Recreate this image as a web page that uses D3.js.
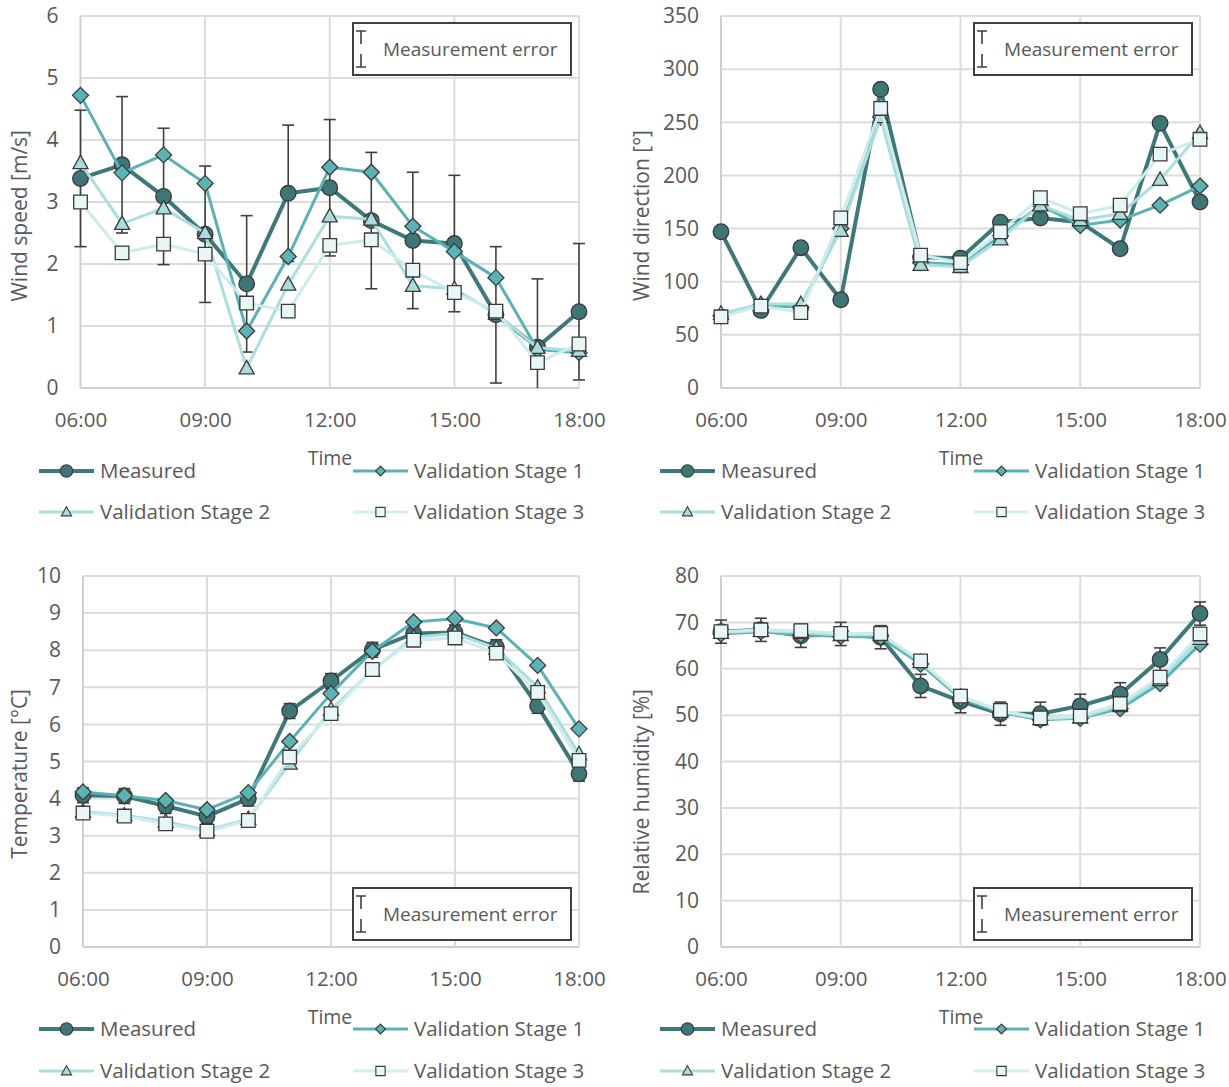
<!DOCTYPE html>
<html><head><meta charset="utf-8">
<script src="https://cdn.jsdelivr.net/npm/d3@7"></script>
<style>
html,body{margin:0;padding:0;background:#fff;}
svg text{font-family:"Open Sans","Noto Sans",sans-serif;fill:#595959;}
</style></head>
<body>
<svg id="chart" width="1229" height="1087"></svg>
<script>
// ---------- data ----------
const hours = ["06:00","07:00","08:00","09:00","10:00","11:00","12:00","13:00","14:00","15:00","16:00","17:00","18:00"];
const xTickLabels = ["06:00","09:00","12:00","15:00","18:00"];
const seriesNames = ["Measured","Validation Stage 1","Validation Stage 2","Validation Stage 3"];

// Wind speed [m/s]
const windSpeedMeasured = [3.38,3.60,3.09,2.48,1.68,3.14,3.23,2.70,2.38,2.33,1.18,0.66,1.23];
const windSpeedError    = [1.1,1.1,1.1,1.1,1.1,1.1,1.1,1.1,1.1,1.1,1.1,1.1,1.1];
const windSpeedVS1      = [4.72,3.47,3.76,3.30,0.92,2.12,3.56,3.48,2.61,2.20,1.78,0.62,0.57];
const windSpeedVS2      = [3.63,2.65,2.90,2.50,0.32,1.67,2.77,2.72,1.65,1.60,1.20,0.65,0.60];
const windSpeedVS3      = [3.00,2.18,2.32,2.16,1.37,1.24,2.30,2.39,1.90,1.54,1.24,0.41,0.71];
const windSpeedTicks    = [0,1,2,3,4,5,6];

// Wind direction [°]
const windDirMeasured = [147,73,132,83,281,123,122,156,160,156,131,249,175];
const windDirError    = [0,0,0,0,0,0,0,0,0,0,0,0,0];
const windDirVS1      = [68,78,76,150,255,118,116,143,172,153,158,172,190];
const windDirVS2      = [70,79,79,148,255,116,114,140,172,158,164,196,240];
const windDirVS3      = [67,77,71,160,263,125,118,147,179,164,172,220,234];
const windDirTicks    = [0,50,100,150,200,250,300,350];

// Temperature [°C]
const tempMeasured = [4.09,4.07,3.80,3.52,4.00,6.36,7.17,8.01,8.45,8.48,8.08,6.50,4.67];
const tempError    = [0.2,0.2,0.2,0.2,0.2,0.2,0.2,0.2,0.2,0.2,0.2,0.2,0.2];
const tempVS1      = [4.18,4.08,3.95,3.70,4.16,5.54,6.83,7.97,8.76,8.85,8.60,7.59,5.88];
const tempVS2      = [3.65,3.55,3.38,3.15,3.45,4.95,6.40,7.45,8.35,8.45,8.05,7.00,5.20];
const tempVS3      = [3.61,3.53,3.32,3.12,3.41,5.12,6.29,7.48,8.27,8.33,7.92,6.86,5.03];
const tempTicks    = [0,1,2,3,4,5,6,7,8,9,10];

// Relative humidity [%]
const rhMeasured = [68.0,68.4,67.1,67.5,66.8,56.3,53.0,50.3,50.3,52.0,54.5,62.0,71.9];
const rhError    = [2.5,2.5,2.5,2.5,2.5,2.5,2.5,2.5,2.5,2.5,2.5,2.5,2.5];
const rhVS1      = [67.5,68.0,67.3,67.0,66.8,61.0,53.6,50.6,49.0,49.3,51.4,56.8,65.3];
const rhVS2      = [67.8,68.2,67.8,67.3,67.4,61.5,54.0,50.8,49.2,49.5,52.0,57.6,66.5];
const rhVS3      = [68.0,68.4,68.2,67.6,67.6,61.7,54.1,51.0,49.4,49.8,52.5,58.2,67.5];
const rhTicks    = [0,10,20,30,40,50,60,70,80];

// ---------- styles ----------
const styles = [
  {line:"#3D797A", width:4,   fill:"#3E7576", marker:"circle"},
  {line:"#5AB2B4", width:3,   fill:"#5AB3B5", marker:"diamond"},
  {line:"#ABDEDE", width:3,   fill:"#A9DCDC", marker:"triangle"},
  {line:"#CDEDED", width:3,   fill:"#E8F6F6", marker:"square"}
];
const markerStroke = "#3a3a3a";

function markerPath(type, cx, cy, s){
  if(type==="circle"){
    const r=7.8*s; return `M${cx-r},${cy}a${r},${r} 0 1,0 ${2*r},0a${r},${r} 0 1,0 ${-2*r},0Z`;
  }
  if(type==="diamond"){
    const r=8*s; return `M${cx},${cy-r}L${cx+r},${cy}L${cx},${cy+r}L${cx-r},${cy}Z`;
  }
  if(type==="triangle"){
    const w=7.5*s, h=13.5*s; return `M${cx},${cy-h*0.58}L${cx+w},${cy+h*0.42}L${cx-w},${cy+h*0.42}Z`;
  }
  const r=6.8*s; return `M${cx-r},${cy-r}H${cx+r}V${cy+r}H${cx-r}Z`;
}

const svg = d3.select("#chart");

const panels = [
  {x0:80.5, x1:579, yTop:16, yBot:388, domain:[0,6], ticks:windSpeedTicks, title:"Wind speed [m/s]",
   titleX:20, titleTop:130, boxTop:23, legendY:[471,512], legendX:[39,353], timeX:330, timeY:458,
   series:[windSpeedMeasured,windSpeedVS1,windSpeedVS2,windSpeedVS3], err:windSpeedError},
  {x0:721, x1:1200, yTop:16, yBot:388, domain:[0,350], ticks:windDirTicks, title:"Wind direction [°]",
   titleX:642, titleTop:130, boxTop:23, legendY:[471,512], legendX:[660,974], timeX:961, timeY:458,
   series:[windDirMeasured,windDirVS1,windDirVS2,windDirVS3], err:windDirError},
  {x0:83, x1:579, yTop:576, yBot:947, domain:[0,10], ticks:tempTicks, title:"Temperature [°C]",
   titleX:20, titleTop:689, boxTop:888, legendY:[1029,1071], legendX:[39,353], timeX:330, timeY:1017,
   series:[tempMeasured,tempVS1,tempVS2,tempVS3], err:tempError},
  {x0:721, x1:1200, yTop:576, yBot:947, domain:[0,80], ticks:rhTicks, title:"Relative humidity [%]",
   titleX:642, titleTop:689, boxTop:888, legendY:[1029,1071], legendX:[660,974], timeX:961, timeY:1017,
   series:[rhMeasured,rhVS1,rhVS2,rhVS3], err:rhError}
];

panels.forEach(p=>{
  const g = svg.append("g");
  const x = d3.scaleLinear().domain([0,hours.length-1]).range([p.x0,p.x1]);
  const y = d3.scaleLinear().domain(p.domain).range([p.yBot,p.yTop]);
  const xTickIdx = xTickLabels.map(l=>hours.indexOf(l));

  // gridlines
  g.append("g").selectAll("line").data(p.ticks).join("line")
    .attr("x1",p.x0).attr("x2",p.x1).attr("y1",d=>y(d)).attr("y2",d=>y(d))
    .attr("stroke",d=>d===p.domain[0]?"#CFCFCF":"#DCDCDC").attr("stroke-width",2);
  g.append("g").selectAll("line").data(xTickIdx).join("line")
    .attr("x1",d=>x(d)).attr("x2",d=>x(d)).attr("y1",p.yTop).attr("y2",p.yBot)
    .attr("stroke",(d,i)=>i===0?"#CFCFCF":"#DCDCDC").attr("stroke-width",2);

  // axes (labels)
  const ya = g.append("g").attr("transform",`translate(${p.x0},0)`)
    .call(d3.axisLeft(y).tickValues(p.ticks).tickSize(0).tickPadding(22).tickFormat(d3.format("d")));
  ya.select(".domain").remove();
  ya.selectAll("text").attr("font-size",21).style("font-family",null);

  const xa = g.append("g").attr("transform",`translate(0,${p.yBot})`)
    .call(d3.axisBottom(x).tickValues(xTickIdx).tickSize(0).tickFormat(i=>hours[i]));
  xa.select(".domain").remove();
  xa.selectAll("text").attr("font-size",20.5).attr("y",32).attr("dy","0.35em").style("font-family",null);

  // axis titles
  g.append("text").attr("transform",`translate(${p.titleX},${p.titleTop}) rotate(-90)`)
    .attr("text-anchor","end").attr("dy","0.35em").attr("font-size",21).text(p.title);
  g.append("text").attr("x",p.timeX).attr("y",p.timeY).attr("text-anchor","middle")
    .attr("dy","0.35em").attr("font-size",19.5).text("Time");

  // series
  p.series.forEach((vals,si)=>{
    const st = styles[si];
    const line = d3.line().x((d,i)=>x(i)).y(d=>y(d));
    g.append("path").datum(vals).attr("d",line).attr("fill","none")
      .attr("stroke",st.line).attr("stroke-width",st.width).attr("stroke-linejoin","round");
    if(si===0){
      const eb = g.append("g").attr("stroke","#404040").attr("stroke-width",1.6);
      vals.forEach((v,i)=>{
        const e = p.err[i]; if(!e) return;
        const lo = Math.max(p.domain[0], v-e), hi = Math.min(p.domain[1], v+e);
        eb.append("line").attr("x1",x(i)).attr("x2",x(i)).attr("y1",y(lo)).attr("y2",y(hi));
        eb.append("line").attr("x1",x(i)-6).attr("x2",x(i)+6).attr("y1",y(hi)).attr("y2",y(hi));
        if(v-e>=p.domain[0]) eb.append("line").attr("x1",x(i)-6).attr("x2",x(i)+6).attr("y1",y(lo)).attr("y2",y(lo));
      });
    }
    g.append("g").selectAll("path").data(vals).join("path")
      .attr("d",(d,i)=>markerPath(st.marker,x(i),y(d),1))
      .attr("fill",st.fill).attr("stroke",markerStroke).attr("stroke-width",1.3);
  });

  // measurement error box
  const bw=218, bh=52, bx=p.x1-8-bw, by=p.boxTop;
  const bg = g.append("g");
  bg.append("rect").attr("x",bx).attr("y",by).attr("width",bw).attr("height",bh)
    .attr("fill","#fff").attr("stroke","#404040").attr("stroke-width",2);
  const ix = bx+8;
  bg.append("path").attr("d",`M${ix-5},${by+8}H${ix+5}M${ix},${by+8}V${by+21}M${ix},${by+31}V${by+44}M${ix-5},${by+44}H${ix+5}`)
    .attr("stroke","#404040").attr("stroke-width",1.6).attr("fill","none");
  bg.append("text").attr("x",bx+30).attr("y",by+bh/2).attr("dy","0.35em")
    .attr("font-size",19).text("Measurement error");

  // legend
  const pos = [[0,0],[1,0],[0,1],[1,1]];
  seriesNames.forEach((name,si)=>{
    const st = styles[si];
    const lx = p.legendX[pos[si][0]], ly = p.legendY[pos[si][1]];
    const lg = g.append("g");
    lg.append("line").attr("x1",lx).attr("x2",lx+55).attr("y1",ly).attr("y2",ly)
      .attr("stroke",si===3?"#D2EFEF":st.line).attr("stroke-width",si===0?4:3);
    const ms = si===0?0.8:(si===1?0.62:0.68);
    lg.append("path").attr("d",markerPath(st.marker,lx+27.5,ly,ms))
      .attr("fill",st.fill).attr("stroke",markerStroke).attr("stroke-width",1.1);
    lg.append("text").attr("x",lx+61).attr("y",ly).attr("dy","0.35em").attr("font-size",20.5).text(name);
  });
});
</script>
</body></html>
